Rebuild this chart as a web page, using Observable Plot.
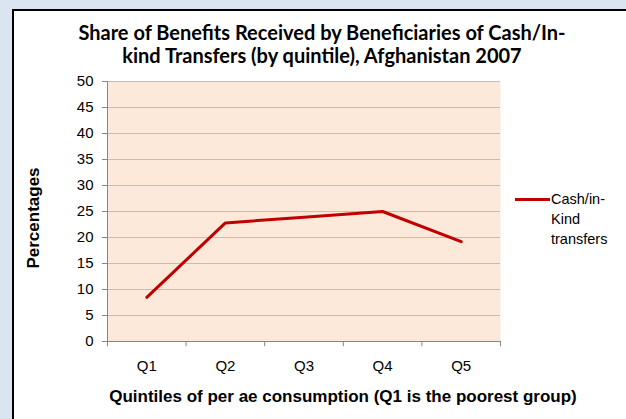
<!DOCTYPE html>
<html><head><meta charset="utf-8">
<script src="https://cdn.jsdelivr.net/npm/d3@7"></script>
<script src="https://cdn.jsdelivr.net/npm/@observablehq/plot@0.6"></script>
<style>
body{margin:0;}
#wrap{position:relative;width:626px;height:419px;background:#dbe5f1;overflow:hidden;font-family:"Liberation Sans",Arial,sans-serif;}
#box{position:absolute;left:12px;top:9px;width:640px;height:430px;background:#fff;border:2px solid #000;}
#title{position:absolute;left:12px;width:620px;top:21px;text-align:center;font:bold 20px/23px Lato,"Open Sans",sans-serif;color:#000;}
#ylab{position:absolute;left:33px;top:218px;transform:translate(-50%,-50%) rotate(-90deg);font:bold 17px/1 "Liberation Sans",Arial,sans-serif;white-space:nowrap;}
#xlab{position:absolute;left:343px;top:388px;transform:translateX(-50%);font:bold 17px/1 "Liberation Sans",Arial,sans-serif;white-space:nowrap;}
#legend{position:absolute;left:515px;top:190px;font:14.5px/20px "Liberation Sans",Arial,sans-serif;}
#legend .sw{position:absolute;left:0;top:8px;width:35px;height:3px;background:#c00000;}
#legend .tx{position:absolute;left:36px;top:-1px;white-space:nowrap;}
#chart{position:absolute;left:0;top:0;}
#chart svg{background:transparent;overflow:visible;}
g[aria-label="y-axis tick label"], g[aria-label="x-axis tick label"]{fill:#000;font-size:15px;}
</style>
</head><body>
<div id="wrap">
  <div id="box"></div>
  <div id="title">Share of Benefits Received by Beneficiaries of Cash/In-<br>kind Transfers (by quintile), Afghanistan 2007</div>
  <div id="ylab">Percentages</div>
  <div id="xlab">Quintiles of per ae consumption (Q1 is the poorest group)</div>
  <div id="legend"><div class="sw"></div><div class="tx">Cash/in-<br>Kind<br>transfers</div></div>
  <div id="chart"></div>
</div>
<script>
const quintiles = ["Q1", "Q2", "Q3", "Q4", "Q5"];
const shares = [8.5, 22.8, 23.9, 25.0, 19.2];
const yTicks = [0, 5, 10, 15, 20, 25, 30, 35, 40, 45, 50];
const seriesName = "Cash/in-Kind transfers";

const data = quintiles.map((q, i) => ({q, idx: i + 1, v: shares[i]}));
const boundaries = quintiles.map((q, i) => i + 0.5).concat([quintiles.length + 0.5]);

const plot = Plot.plot({
  width: 626,
  height: 419,
  marginLeft: 107,
  marginRight: 126,
  marginTop: 81,
  marginBottom: 78,
  style: {background: "transparent", fontFamily: "'Liberation Sans', Arial, sans-serif", fontSize: "15px", color: "#868686"},
  x: {domain: [0.5, quintiles.length + 0.5], ticks: quintiles.map((q, i) => i + 1), tickFormat: i => quintiles[i - 1], tickSize: 0, tickPadding: 19, label: null},
  y: {domain: [0, 50], ticks: yTicks, tickSize: 5, tickPadding: 9, label: null},
  marks: [
    Plot.frame({fill: "#fde9d9", stroke: "none"}),
    Plot.ruleY(yTicks.filter(t => t > 0), {stroke: "#bfbfbf", strokeWidth: 1}),
    Plot.ruleX(boundaries, {y1: 0, y2: -1, stroke: "#868686"}),
    Plot.ruleY([0], {stroke: "#868686"}),
    Plot.ruleX([0.5], {stroke: "#868686"}),
    Plot.line(data, {x: "idx", y: "v", stroke: "#c00000", strokeWidth: 3, title: () => seriesName})
  ]
});
document.getElementById("chart").appendChild(plot);
</script>
</body></html>
